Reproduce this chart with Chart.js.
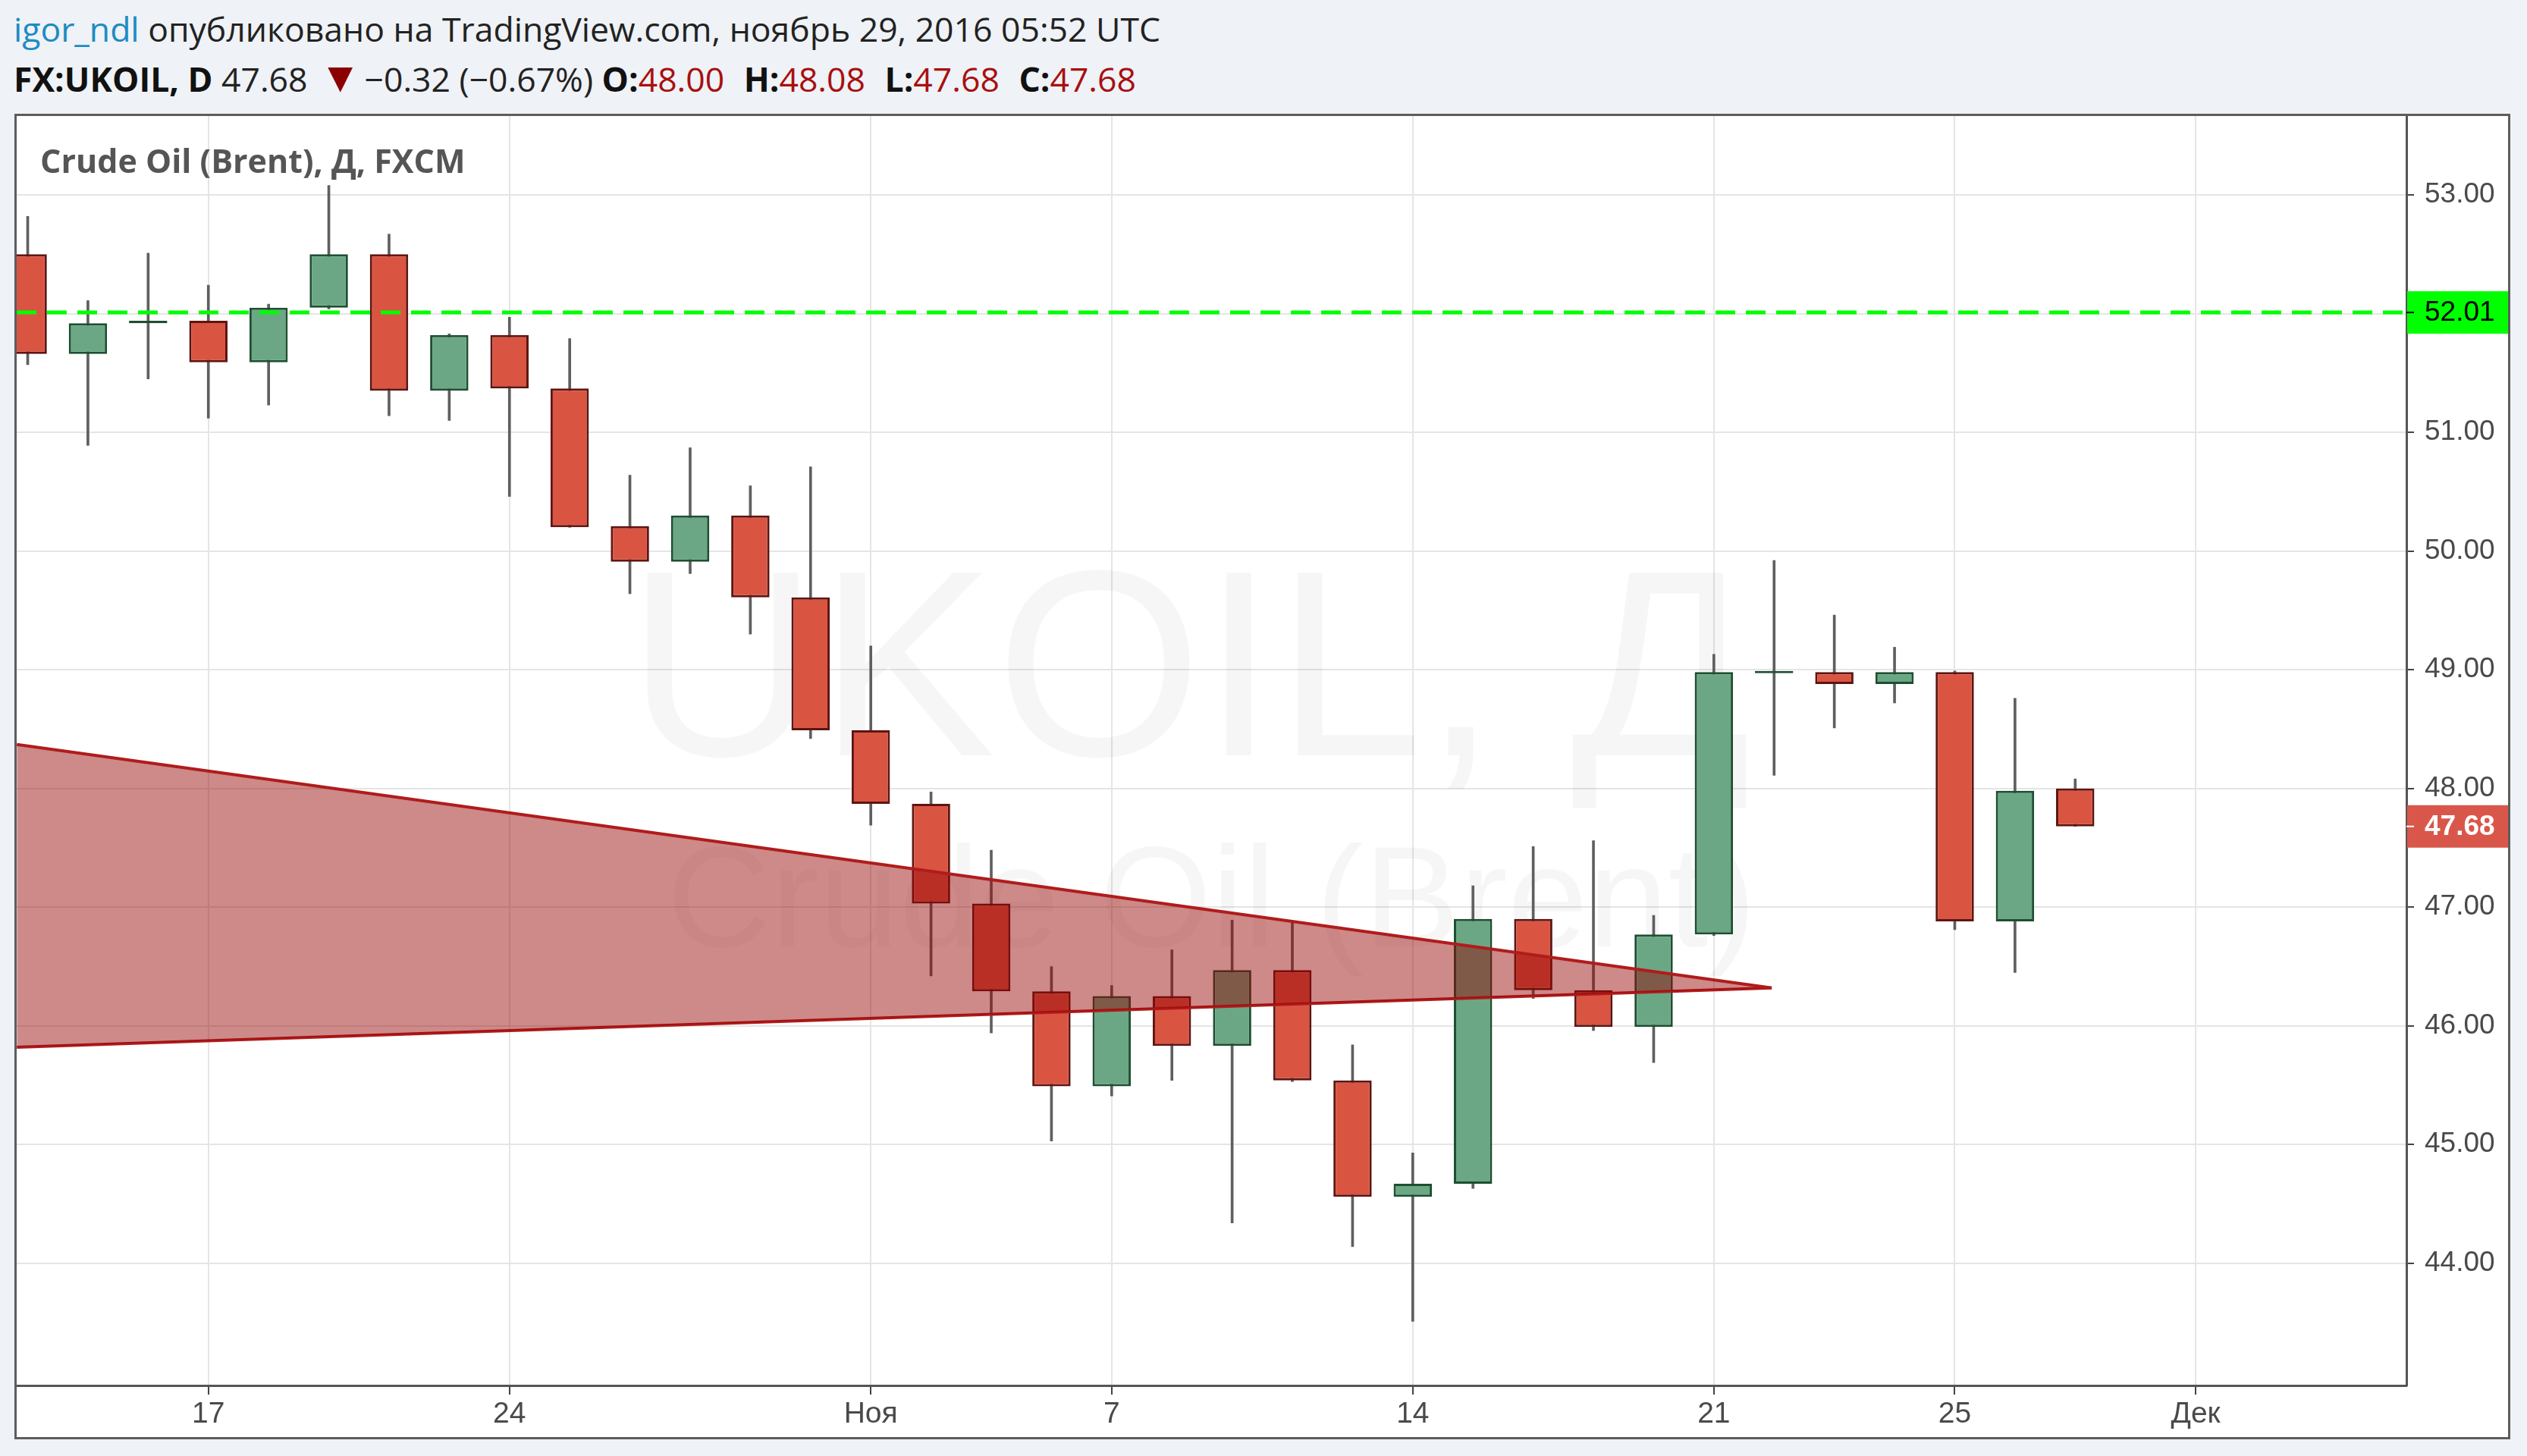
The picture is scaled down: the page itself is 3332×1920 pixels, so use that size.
<!DOCTYPE html>
<html>
<head>
<meta charset="utf-8">
<script src="https://cdn.jsdelivr.net/npm/chart.js@4.4.0/dist/chart.umd.min.js"></script>
<style>
  body { margin:0; background:#eff2f6; width:3332px; height:1920px; overflow:hidden; font-family:"Open Sans", sans-serif; }
  .hdr { position:absolute; left:18px; font-size:44.5px; line-height:44px; color:#222; white-space:nowrap; }
  #line1 { top:16px; }
  #line2 { top:77px; }
  .user { color:#1e8bc3; }
  .b { font-weight:700; color:#111; }
  .red { color:#a80f0f; }
  .tri { color:#8b0000; font-size:56px; margin:0 4px; }
  .gap { margin-left:14px; }
  #panel { position:absolute; left:19px; top:150px; width:3291px; height:1748px; box-sizing:border-box; border:3px solid #5d5d5d; background:#fff; }
  #legend { position:absolute; left:53px; top:191px; font-size:43px; line-height:42px; font-weight:700; color:#555; }
</style>
</head>
<body>
<div class="hdr" id="line1"><span class="user">igor_ndl</span> опубликовано на TradingView.com, ноябрь 29, 2016 05:52 UTC</div>
<div class="hdr" id="line2"><span class="b">FX:UKOIL, D</span> 47.68 <span class="tri">▼</span>−0.32 (−0.67%) <span class="b">O:</span><span class="red">48.00</span> <span class="b gap">H:</span><span class="red">48.08</span> <span class="b gap">L:</span><span class="red">47.68</span> <span class="b gap">C:</span><span class="red">47.68</span></div>
<div id="panel"><canvas id="chart" width="3285" height="1742"></canvas></div>
<div id="legend">Crude Oil (Brent), Д, FXCM</div>
<script>
// trading days (last five are empty space on the right of the chart)
const days = ['12.10','13.10','14.10','17.10','18.10','19.10','20.10','21.10','24.10','25.10',
  '26.10','27.10','28.10','31.10','01.11','02.11','03.11','04.11','07.11','08.11',
  '09.11','10.11','11.11','14.11','15.11','16.11','17.11','18.11','21.11','22.11',
  '23.11','24.11','25.11','28.11','29.11','30.11','01.12','02.12','05.12','06.12'];

const open  = [52.50,51.66,51.92,51.94,51.59,52.05,52.50,51.35,51.82,51.37,
  50.21,49.91,50.30,49.61,48.49,47.87,47.03,46.29,45.49,46.25,
  45.83,46.47,45.54,44.56,44.67,46.90,46.30,45.99,46.77,48.97,
  48.98,48.88,48.98,46.88,48.00];
const high  = [52.82,52.11,52.51,52.24,52.08,53.08,52.67,51.83,51.97,51.79,
  50.64,50.87,50.55,50.71,49.20,47.97,47.48,46.50,46.34,46.64,
  46.89,46.87,45.84,44.93,47.18,47.51,47.56,46.93,49.13,49.92,
  49.46,49.19,48.99,48.76,48.08];
const low   = [51.57,50.89,51.45,51.12,51.23,52.04,51.14,51.10,50.46,50.20,
  49.64,49.81,49.30,48.42,47.69,46.42,45.94,45.03,45.41,45.54,
  44.34,45.53,44.14,43.51,44.63,46.23,45.96,45.69,46.76,48.11,
  48.51,48.72,46.81,46.45,47.68];
const close = [51.66,51.92,51.94,51.59,52.05,52.50,51.35,51.82,51.37,50.20,
  49.91,50.30,49.61,48.49,47.87,47.03,46.29,45.49,46.25,45.83,
  46.47,45.54,44.56,44.67,46.90,46.30,45.99,46.77,48.98,48.99,
  48.88,48.98,46.88,47.98,47.68];

const tickDays   = ['17.10','24.10','01.11','07.11','14.11','21.11','25.11','01.12'];
const tickLabels = ['17','24','Ноя','7','14','21','25','Дек'];
const priceTicks = [44,45,46,47,48,49,50,51,52,53];

// horizontal level and the triangle drawing (x = bar index)
const levelPrice = 52.01;
const triX     = [-0.18, 28.96];
const triUpper = [48.37, 46.32];
const triLower = [45.82, 46.32];

const xMin = -0.183, xMax = 39.5;

const upFill = '#6ba784', upLine = '#1d4f31';
const downFill = '#d95542', downLine = '#5e1512';

const n = close.length;
const isUp = close.map((c, i) => c >= open[i]);
const lastPrice = close[n - 1];

const watermark = {
  id: 'watermark',
  beforeDatasetsDraw(chart) {
    const ctx = chart.ctx, a = chart.chartArea;
    ctx.save();
    ctx.fillStyle = 'rgba(0,0,0,0.035)';
    ctx.textAlign = 'center';
    ctx.font = '350px "Liberation Sans"';
    ctx.fillText('UKOIL, Д', a.left + a.width / 2 - 30, a.top + 843);
    ctx.font = '190px "Liberation Sans"';
    ctx.fillText('Crude Oil (Brent)', a.left + a.width / 2, a.top + 1095);
    ctx.restore();
  }
};

const priceTags = {
  id: 'priceTags',
  afterDraw(chart) {
    const ctx = chart.ctx, a = chart.chartArea, ys = chart.scales.y;
    const tags = [
      { v: levelPrice, bg: '#00ff00', fg: '#000', w: 'normal' },
      { v: lastPrice, bg: '#d9574a', fg: '#fff', w: 'bold' }
    ];
    ctx.save();
    tags.forEach(t => {
      const y = ys.getPixelForValue(t.v);
      ctx.fillStyle = t.bg;
      ctx.fillRect(a.right + 1, y - 28, chart.width - a.right - 1, 56);
      ctx.strokeStyle = t.fg;
      ctx.lineWidth = 2;
      ctx.beginPath();
      ctx.moveTo(a.right, y);
      ctx.lineTo(a.right + 10, y);
      ctx.stroke();
      ctx.fillStyle = t.fg;
      ctx.font = t.w + ' 37px "Liberation Sans"';
      ctx.textBaseline = 'middle';
      ctx.fillText(t.v.toFixed(2), a.right + 24, y + 1);
    });
    ctx.restore();
  }
};

new Chart(document.getElementById('chart'), {
  type: 'bar',
  data: {
    datasets: [
      {
        label: 'wick',
        data: low.map((l, i) => ({ x: i, y: [l, high[i]] })),
        backgroundColor: '#5f5f5f',
        barThickness: 3,
        grouped: false,
        order: 4
      },
      {
        label: 'body',
        data: open.map((o, i) => ({ x: i, y: [o, close[i]] })),
        backgroundColor: isUp.map(u => u ? upFill : downFill),
        borderColor: isUp.map(u => u ? upLine : downLine),
        borderWidth: 3,
        borderSkipped: false,
        barPercentage: 0.636,
        categoryPercentage: 1,
        grouped: false,
        order: 3
      },
      {
        type: 'line',
        label: 'triangle top',
        data: triX.map((x, i) => ({ x: x, y: triUpper[i] })),
        borderColor: '#b01c1c',
        borderWidth: 4,
        pointRadius: 0,
        fill: '+1',
        backgroundColor: 'rgba(150,5,5,0.47)',
        order: 2
      },
      {
        type: 'line',
        label: 'triangle bottom',
        data: triX.map((x, i) => ({ x: x, y: triLower[i] })),
        borderColor: '#b01c1c',
        borderWidth: 4,
        pointRadius: 0,
        fill: false,
        order: 2
      },
      {
        type: 'line',
        label: 'level',
        data: [{ x: xMin, y: levelPrice }, { x: xMax, y: levelPrice }],
        borderColor: '#00ff00',
        borderWidth: 5,
        borderDash: [26, 14],
        pointRadius: 0,
        fill: false,
        order: 0
      }
    ]
  },
  options: {
    responsive: false,
    animation: false,
    layout: { padding: 0, autoPadding: false },
    plugins: { legend: { display: false }, tooltip: { enabled: false } },
    scales: {
      x: {
        type: 'linear',
        offset: false,
        min: xMin,
        max: xMax,
        afterBuildTicks: s => { s.ticks = tickDays.map(d => ({ value: days.indexOf(d) })); },
        afterFit: s => { s.height = 68; s.paddingLeft = 0; s.paddingRight = 0; },
        ticks: {
          autoSkip: false,
          maxRotation: 0,
          padding: 3,
          color: '#4a4a4a',
          font: { family: 'Liberation Sans', size: 39 },
          callback: v => tickLabels[tickDays.indexOf(days[v])]
        },
        grid: { offset: false, color: '#e5e5e5', lineWidth: 2, tickLength: 12, tickColor: '#444', tickWidth: 2 },
        border: { color: '#555', width: 3 }
      },
      y: {
        position: 'right',
        min: 42.97,
        max: 53.665,
        afterBuildTicks: s => { s.ticks = priceTicks.map(v => ({ value: v })); },
        afterFit: s => { s.width = 134; s.paddingTop = 0; s.paddingBottom = 0; },
        ticks: {
          padding: 14,
          color: '#4a4a4a',
          font: { family: 'Liberation Sans', size: 37 },
          callback: v => v.toFixed(2)
        },
        grid: { color: '#e5e5e5', lineWidth: 2, tickLength: 10, tickColor: '#444', tickWidth: 2 },
        border: { color: '#555', width: 3 }
      }
    }
  },
  plugins: [watermark, priceTags]
});
</script>
</body>
</html>
